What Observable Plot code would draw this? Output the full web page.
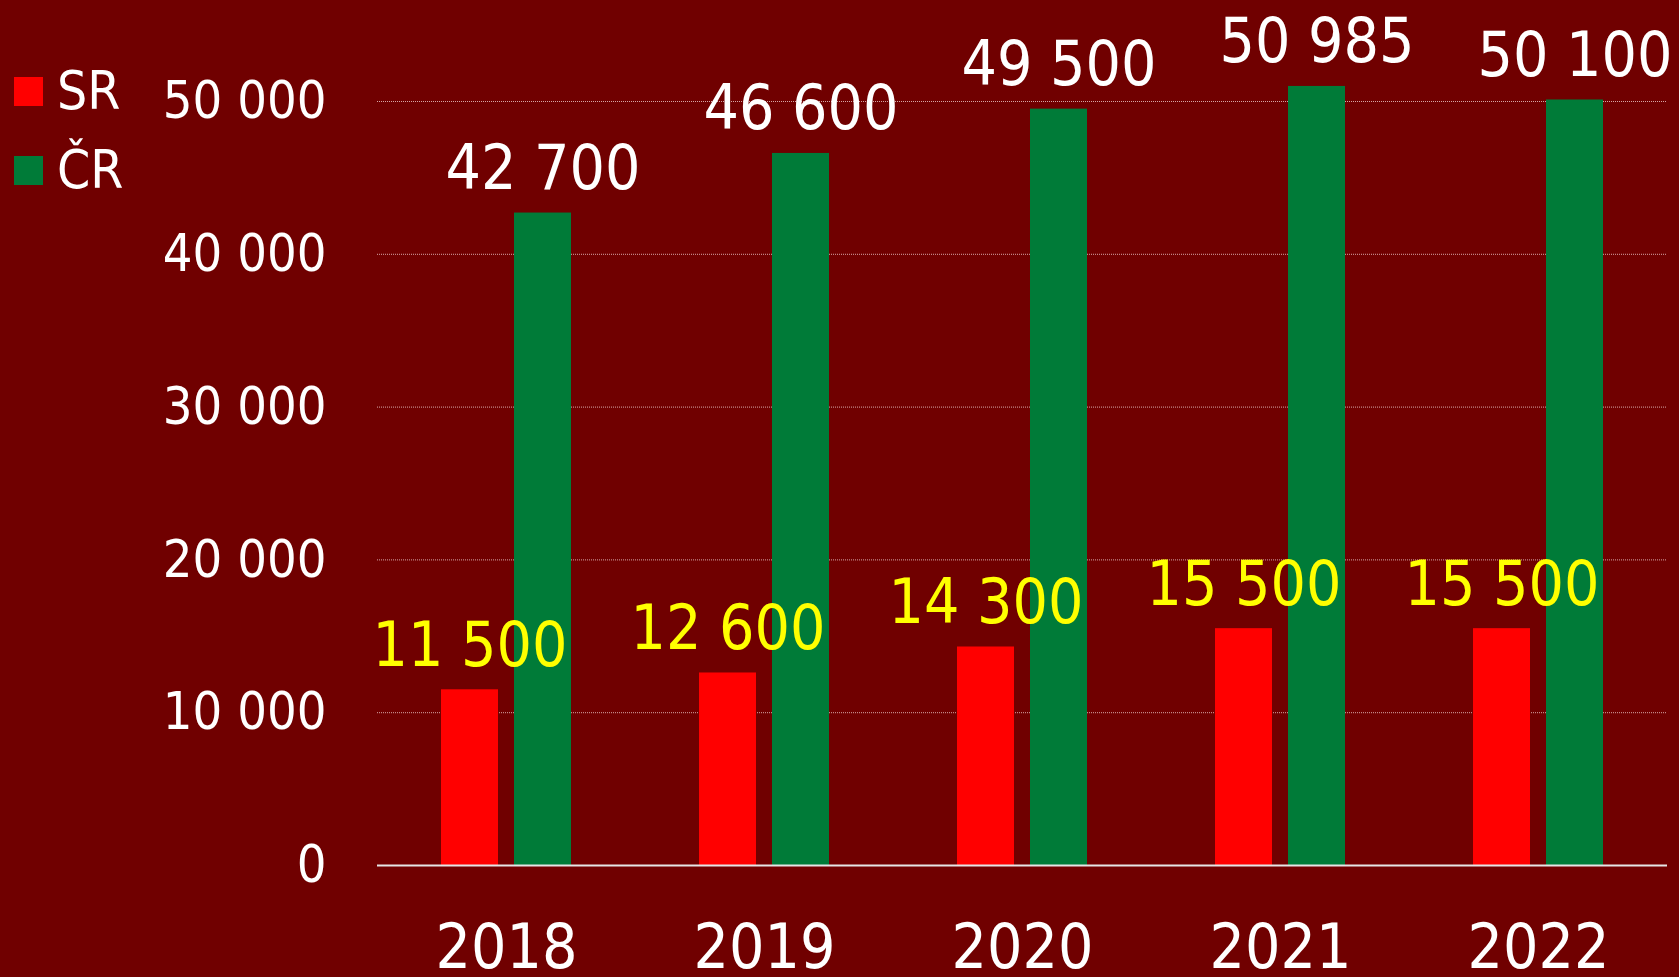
<!DOCTYPE html>
<html>
<head>
<meta charset="utf-8">
<script src="https://cdn.jsdelivr.net/npm/d3@7"></script>
<script src="https://cdn.jsdelivr.net/npm/@observablehq/plot@0.6"></script>
<style>
  html, body { margin: 0; padding: 0; background: #700000; }
  #wrap { position: relative; width: 1679px; height: 977px; overflow: hidden; }
  #legend { position: absolute; left: 14px; top: 77px; font-family: "DejaVu Sans Condensed", "DejaVu Sans", sans-serif; color: #fff; font-size: 53px; }
  .item { display: flex; align-items: center; height: 29px; margin-bottom: 50px; }
  .sw { width: 29px; height: 29px; margin-right: 14px; flex: none; }
  .lab { line-height: 29px; position: relative; top: -1px; }
</style>
</head>
<body>
<div id="wrap">
  <div id="chart"></div>
  <div id="legend"></div>
</div>
<script>
const years = ["2018", "2019", "2020", "2021", "2022"];
const series = ["SR", "ČR"];
const srValues = [11500, 12600, 14300, 15500, 15500];
const crValues = [42700, 46600, 49500, 50985, 50100];
const yTicks = [0, 10000, 20000, 30000, 40000, 50000];
const seriesColors = ["#ff0000", "#007b38"];
const labelColors = ["#ffff00", "#ffffff"];

const data = [];
years.forEach((y, i) => {
  data.push({year: y, series: "SR", value: srValues[i]});
  data.push({year: y, series: "ČR", value: crValues[i]});
});

const fmt = d => d3.format(",")(d).replace(/,/g, " ");

const chart = Plot.plot({
  width: 1679,
  height: 977,
  marginLeft: 376,
  marginRight: 11,
  marginTop: 101,
  marginBottom: 112,
  style: {background: "#700000", color: "#ffffff", fontFamily: "'DejaVu Sans Condensed', 'DejaVu Sans', sans-serif", overflow: "visible"},
  fx: {domain: years, padding: 0, label: null, axis: null},
  x: {domain: series, paddingInner: 0.217, paddingOuter: 0.858, axis: null},
  y: {domain: [0, 50000], label: null},
  color: {domain: series, range: seriesColors},
  marks: [
    Plot.gridY(yTicks.filter(d => d > 0), {stroke: "#e0b8b8", strokeOpacity: 0.9, strokeWidth: 1, strokeDasharray: "1,1"}),
    Plot.axisY(yTicks, {tickSize: 0, tickPadding: 51, fontSize: 52, tickFormat: fmt, label: null, fill: "#ffffff"}),
    Plot.axisFx({anchor: "bottom", tickSize: 0, tickPadding: 58, fontSize: 62, label: null, fill: "#ffffff"}),
    Plot.barY(data, {fx: "year", x: "series", y: "value", fill: "series"}),
    Plot.ruleY([0], {stroke: "#e6e6e6", strokeWidth: 2}),
    Plot.text(data, {fx: "year", x: "series", y: "value", text: d => fmt(d.value), lineAnchor: "bottom", dy: -24, fontSize: 62,
      fill: d => labelColors[series.indexOf(d.series)]})
  ]
});
document.getElementById("chart").appendChild(chart);

const legend = document.getElementById("legend");
series.forEach((s, i) => {
  const item = document.createElement("div");
  item.className = "item";
  const sw = document.createElement("div");
  sw.className = "sw";
  sw.style.background = seriesColors[i];
  const lab = document.createElement("span");
  lab.className = "lab";
  lab.textContent = s;
  item.appendChild(sw);
  item.appendChild(lab);
  legend.appendChild(item);
});
</script>
</body>
</html>
